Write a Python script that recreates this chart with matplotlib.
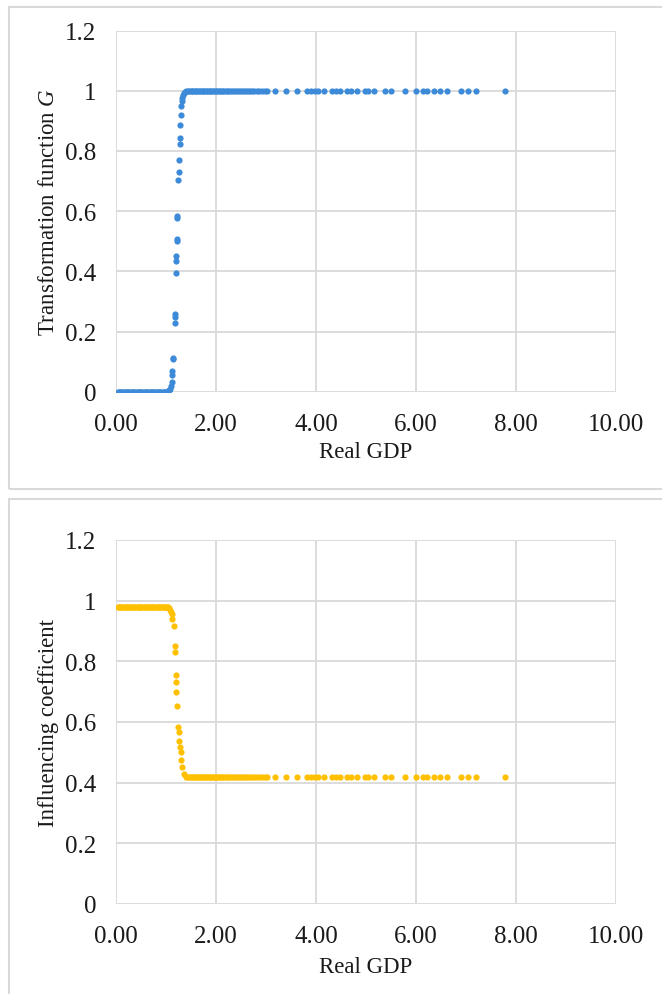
import matplotlib
matplotlib.use("Agg")
import matplotlib.pyplot as plt
from matplotlib.patches import Rectangle

plt.rcParams['font.family'] = ['Liberation Serif', 'DejaVu Serif']
plt.rcParams['mathtext.fontset'] = 'custom'
plt.rcParams['mathtext.rm'] = 'Liberation Serif'
plt.rcParams['mathtext.it'] = 'Liberation Serif:italic'

# low regime (before the switch)
x_low = [0.04, 0.06, 0.09, 0.11, 0.13, 0.16, 0.18, 0.20, 0.23, 0.25, 0.27, 0.30,
         0.32, 0.35, 0.37, 0.39, 0.42, 0.44, 0.46, 0.49, 0.51, 0.53, 0.56, 0.58,
         0.61, 0.63, 0.65, 0.68, 0.70, 0.72, 0.75, 0.77, 0.80, 0.82, 0.84, 0.87,
         0.89, 0.91, 0.94, 0.96, 0.98, 1.00, 1.02, 1.04, 1.06, 1.08, 1.10]
g_low = [0.0] * 43 + [0.002, 0.005, 0.010, 0.018]
c_low = [0.98] * 43 + [0.978, 0.975, 0.970, 0.962]

# transition, top chart
x_trans_g = [1.12, 1.13, 1.13, 1.15, 1.15, 1.18, 1.18, 1.18, 1.20, 1.21, 1.21, 1.22,
             1.22, 1.23, 1.23, 1.25, 1.26, 1.27, 1.28, 1.28, 1.29, 1.30, 1.31, 1.32,
             1.33, 1.34, 1.36, 1.38, 1.41]
g_trans = [0.031, 0.055, 0.070, 0.109, 0.113, 0.227, 0.247, 0.258, 0.394, 0.435,
           0.452, 0.502, 0.507, 0.578, 0.583, 0.704, 0.729, 0.771, 0.823, 0.843,
           0.887, 0.920, 0.950, 0.965, 0.975, 0.985, 0.992, 0.996, 0.999]

# transition, bottom chart
x_trans_c = [1.12, 1.13, 1.16, 1.18, 1.18, 1.20, 1.20, 1.21, 1.22, 1.25, 1.26, 1.27,
             1.29, 1.30, 1.31, 1.33, 1.36, 1.40]
c_trans = [0.955, 0.940, 0.918, 0.852, 0.832, 0.755, 0.733, 0.698, 0.654, 0.583,
           0.566, 0.538, 0.517, 0.500, 0.473, 0.451, 0.429, 0.420]

# high regime
x_high = [1.44, 1.47, 1.50, 1.52, 1.55, 1.58, 1.60, 1.63, 1.66, 1.69, 1.72, 1.74,
          1.77, 1.80, 1.83, 1.86, 1.88, 1.91, 1.94, 1.97, 2.00, 2.03, 2.06, 2.09,
          2.12, 2.15, 2.18, 2.22, 2.25, 2.29, 2.32, 2.36, 2.40, 2.44, 2.48, 2.52,
          2.56, 2.60, 2.64, 2.68, 2.72, 2.77, 2.82, 2.87, 2.92, 2.98, 3.03, 3.18,
          3.40, 3.63, 3.83, 3.90, 3.98, 4.05, 4.16, 4.33, 4.40, 4.49, 4.63, 4.71,
          4.83, 4.98, 5.05, 5.17, 5.38, 5.50, 5.79, 6.01, 6.15, 6.23, 6.36, 6.49,
          6.63, 6.91, 7.05, 7.21, 7.78]
g_high = [1.0] * len(x_high)
c_high = [0.418] * len(x_high)

x_ticks = [0, 2, 4, 6, 8, 10]
x_ticklabels = ['0.00', '2.00', '4.00', '6.00', '8.00', '10.00']
y_ticks = [0, 0.2, 0.4, 0.6, 0.8, 1.0, 1.2]
y_ticklabels = ['0', '0.2', '0.4', '0.6', '0.8', '1', '1.2']

fig = plt.figure(figsize=(6.62, 9.95), dpi=100)

# panel frames
fig.patches.append(Rectangle((0.0136, 0.5075), 1.2, 0.4845, transform=fig.transFigure,
                             fill=False, edgecolor='#d9d9d9', linewidth=1.5))
fig.patches.append(Rectangle((0.0136, -0.1), 1.2, 0.5975, transform=fig.transFigure,
                             fill=False, edgecolor='#d9d9d9', linewidth=1.5))

ax1 = fig.add_axes([0.1752, 0.6053, 0.7553, 0.3630])
ax2 = fig.add_axes([0.1752, 0.0905, 0.7553, 0.3658])

txt = '#1a1a1a'


def style(ax):
    ax.set_xlim(0, 10)
    ax.set_ylim(0, 1.2)
    ax.set_xticks(x_ticks)
    ax.set_xticklabels(x_ticklabels)
    ax.set_yticks(y_ticks)
    ax.set_yticklabels(y_ticklabels)
    ax.grid(True, color='#d9d9d9', linewidth=1.3)
    ax.set_axisbelow(True)
    for s in ax.spines.values():
        s.set_visible(False)
    ax.tick_params(length=0, labelsize=18, colors=txt)
    ax.tick_params(axis='x', pad=15)
    ax.tick_params(axis='y', pad=14)


blue = '#3d8bd8'
gold = '#ffc000'

ax1.scatter(x_low + x_trans_g + x_high, g_low + g_trans + g_high, s=20,
            color=blue, linewidths=0, zorder=3)
style(ax1)
ax1.set_xlabel('Real GDP', fontsize=16.5, color=txt)
ax1.set_ylabel('Transformation function $G$', fontsize=16.5, color=txt)
ax1.xaxis.set_label_coords(0.5, -0.137)
ax1.yaxis.set_label_coords(-0.114, 0.5)

ax2.scatter(x_low + x_trans_c + x_high, c_low + c_trans + c_high, s=20,
            color=gold, linewidths=0, zorder=3)
style(ax2)
ax2.set_xlabel('Real GDP', fontsize=16.5, color=txt)
ax2.set_ylabel('Influencing coefficient', fontsize=16.5, color=txt)
ax2.xaxis.set_label_coords(0.5, -0.143)
ax2.yaxis.set_label_coords(-0.114, 0.5)

fig.savefig('out.png', dpi=100)
